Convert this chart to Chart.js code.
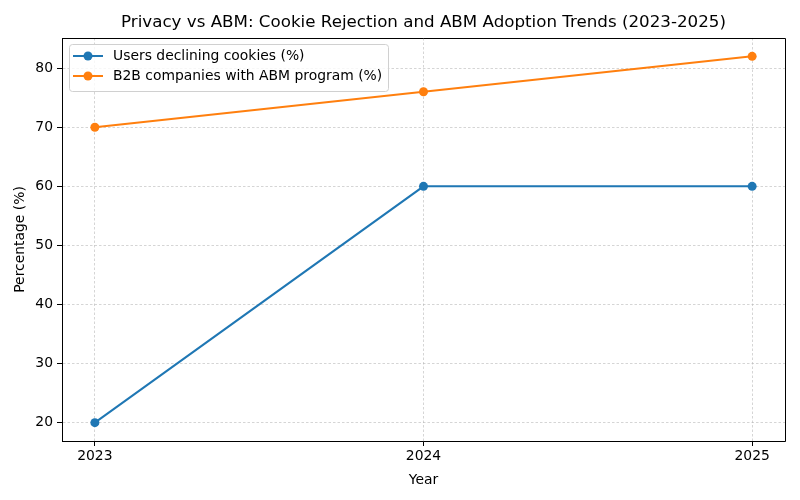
<!DOCTYPE html>
<html>
<head>
<meta charset="utf-8">
<script src="https://cdn.jsdelivr.net/npm/chart.js@4/dist/chart.umd.min.js"></script>
<style>
  html, body { margin: 0; padding: 0; background: #fff; }
  #wrap { width: 800px; height: 500px; }
</style>
</head>
<body>
<div id="wrap"><canvas id="myChart" width="800" height="500"></canvas></div>
<script>
// data
var years = [2023, 2024, 2025];
var declining = [20, 60, 60];
var abm = [70, 76, 82];
var yTicks = [20, 30, 40, 50, 60, 70, 80];
var seriesNames = ['Users declining cookies (%)', 'B2B companies with ABM program (%)'];
var chartTitle = 'Privacy vs ABM: Cookie Rejection and ABM Adoption Trends (2023-2025)';

var FONT = 'DejaVu Sans';

function pts(vals){
  var out = [];
  for (var i in years) out.push({x: years[i], y: vals[i]});
  return out;
}

// title, top/right frame and legend box like matplotlib
var extras = {
  id: 'extras',
  afterDraw: function(chart){
    var ctx = chart.ctx, a = chart.chartArea;
    ctx.save();
    ctx.strokeStyle = '#000';
    ctx.lineWidth = 1;
    ctx.beginPath();
    ctx.moveTo(a.left, a.top + 0.5);
    ctx.lineTo(a.right + 0.5, a.top + 0.5);
    ctx.lineTo(a.right + 0.5, a.bottom);
    ctx.stroke();

    ctx.fillStyle = '#000';
    ctx.font = '16.7px "' + FONT + '"';
    ctx.textAlign = 'center';
    ctx.textBaseline = 'middle';
    ctx.fillText(chartTitle, (a.left + a.right) / 2, 23);

    // legend
    var lx = a.left + 7, ly = a.top + 6, lw = 319, lh = 47;
    ctx.fillStyle = 'rgba(255,255,255,0.8)';
    ctx.strokeStyle = '#d0d0d0';
    ctx.beginPath();
    ctx.roundRect(lx + 0.5, ly + 0.5, lw, lh, 3);
    ctx.fill();
    ctx.stroke();
    ctx.font = '13.9px "' + FONT + '"';
    ctx.textAlign = 'left';
    chart.data.datasets.forEach(function(ds, i){
      var yy = ly + 12 + i * 20;
      ctx.strokeStyle = ds.borderColor;
      ctx.lineWidth = 2;
      ctx.beginPath();
      ctx.moveTo(lx + 4, yy);
      ctx.lineTo(lx + 34, yy);
      ctx.stroke();
      ctx.fillStyle = ds.borderColor;
      ctx.beginPath();
      ctx.arc(lx + 19, yy, 4.5, 0, Math.PI * 2);
      ctx.fill();
      ctx.fillStyle = '#000';
      ctx.fillText(ds.label, lx + 44, yy);
    });
    ctx.restore();
  }
};

var ctx = document.getElementById('myChart');
var lineChart = new Chart(ctx, {
  type: 'line',
  data: {
    datasets: [
      {
        label: seriesNames[0],
        data: pts(declining),
        borderColor: '#1f77b4',
        backgroundColor: '#1f77b4',
        borderWidth: 2,
        pointRadius: 4.5,
        pointBorderWidth: 0,
        pointHoverRadius: 4.5
      },
      {
        label: seriesNames[1],
        data: pts(abm),
        borderColor: '#ff7f0e',
        backgroundColor: '#ff7f0e',
        borderWidth: 2,
        pointRadius: 4.5,
        pointBorderWidth: 0,
        pointHoverRadius: 4.5
      }
    ]
  },
  plugins: [extras],
  options: {
    responsive: false,
    animation: false,
    layout: { padding: { top: 38, right: 15, left: 0, bottom: 0 } },
    plugins: { legend: { display: false }, title: { display: false }, tooltip: { enabled: false } },
    scales: {
      x: {
        type: 'linear',
        min: 2022.9,
        max: 2025.1,
        afterBuildTicks: function(scale){
          scale.ticks = years.map(function(v){ return {value: v}; });
        },
        afterFit: function(scale){ scale.height = 59; },
        ticks: {
          color: '#000',
          font: { family: FONT, size: 13.9 },
          padding: 2,
          maxRotation: 0,
          callback: function(v){ return String(v); }
        },
        grid: {
          color: 'rgba(176,176,176,0.9)',
          lineWidth: 0.6,
          tickColor: '#000',
          tickLength: 5,
          tickWidth: 1,
          tickBorderDash: []
        },
        border: { display: true, color: '#000', width: 1, dash: [2.5, 2] },
        title: { display: true, text: 'Year', color: '#000', font: { family: FONT, size: 13.9 }, padding: { top: 2, bottom: 11 } }
      },
      y: {
        min: 16.9,
        max: 85.1,
        afterBuildTicks: function(scale){
          scale.ticks = yTicks.map(function(v){ return {value: v}; });
        },
        afterFit: function(scale){ scale.width = 62; },
        ticks: {
          color: '#000',
          font: { family: FONT, size: 13.9 },
          padding: 4
        },
        grid: {
          color: 'rgba(176,176,176,0.9)',
          lineWidth: 0.6,
          tickColor: '#000',
          tickLength: 5,
          tickWidth: 1,
          tickBorderDash: []
        },
        border: { display: true, color: '#000', width: 1, dash: [2.5, 2] },
        title: { display: true, text: 'Percentage (%)', color: '#000', font: { family: FONT, size: 13.9 }, padding: { top: 12, bottom: 4 } }
      }
    }
  }
});
</script>
</body>
</html>
